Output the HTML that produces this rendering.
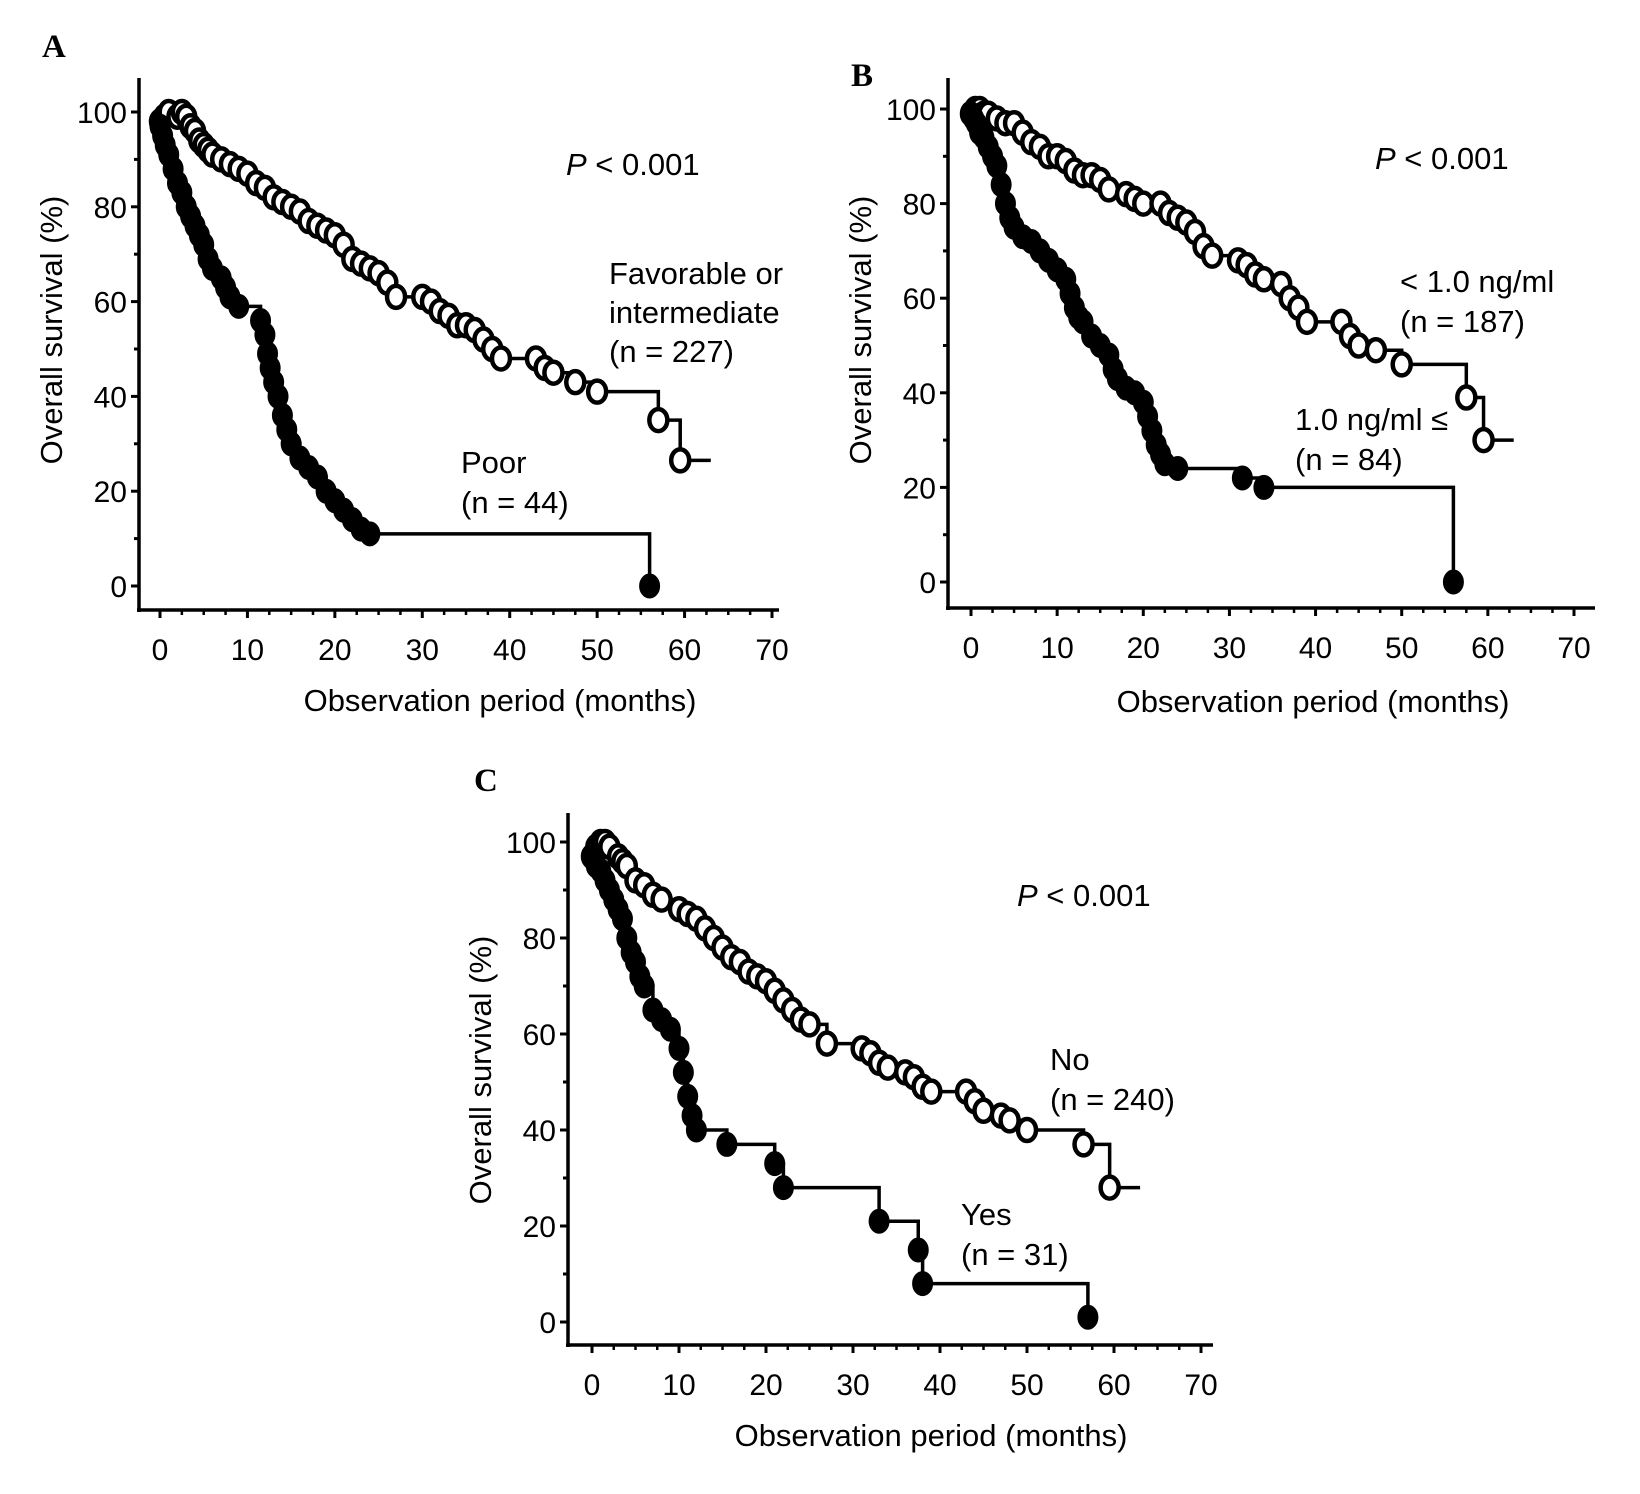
<!DOCTYPE html>
<html><head><meta charset="utf-8"><style>
html,body{margin:0;padding:0;background:#fff;}
svg{display:block;font-family:"Liberation Sans",Arial,sans-serif;}
</style></head><body>
<svg id="fig" width="1640" height="1494" viewBox="0 0 1640 1494" xmlns="http://www.w3.org/2000/svg"></svg>
<script>
// ---- data ----
const xTicks = [0,10,20,30,40,50,60,70];
const yTicks = [0,20,40,60,80,100];
// Panel A
const aFavT = [0,0.5,1,2,2.5,3,3.5,4,4.5,5,5.5,6,7,8,9,10,11,12,13,14,15,16,17,18,19,20,21,22,23,24,25,26,27,30,31,32,33,34,35,36,37,38,39,43,44,45,47.5,50,57,59.5,63];
const aFavS = [98,99,100,99,100,99,97,96,94,93,92,91,90,89,88,87,85,84,82,81,80,79,77,76,75,74,72,69,68,67,66,64,61,61,60,58,57,55,55,54,52,50,48,48,46,45,43,41,35,26.5,26.5];
const aPoorT = [0,0.3,0.6,1,1.5,2,2.5,3,3.5,4,4.5,5,5.5,6,7,7.5,8,9,11.5,12,12.3,12.6,13,13.5,14,14.5,15,16,17,18,19,20,21,22,23,24,56];
const aPoorS = [97,95,93,91,88,85,83,80,78,76,74,72,69,67,65,63,61,59,56,53,49,46,43,40,36,33,30,27,25,23,20,18,16,14,12,11,0];
// Panel B
const bLowT = [0,0.5,1,1.5,2,3,4,5,6,7,8,9,10,11,12,13,14,15,16,18,19,20,22,23,24,25,26,27,28,31,32,33,34,36,37,38,39,43,44,45,47,50,57.5,59.5,63];
const bLowS = [99,100,100,99,99,98,97,97,95,93,92,90,90,89,87,86,86,85,83,82,81,80,80,78,77,76,74,71,69,68,67,65,64,63,60,58,55,55,52,50,49,46,39,30,30];
const bHighT = [0,0.3,0.6,1,1.5,2,2.5,3,3.5,4,4.5,5,6,7,8,9,10,11,11.5,12,12.5,13,14,15,16,16.5,17,18,19,20,20.5,21,21.5,22,22.5,24,31.5,34,56];
const bHighS = [99,98,97,95,94,92,90,88,84,80,77,75,73,72,70,68,66,64,61,58,56,55,52,50,48,45,43,41,40,38,35,32,29,27,25,24,22,20,0];
// Panel C
const cNoT = [0,0.5,1,1.5,2,3,3.5,4,5,6,7,8,10,11,12,13,14,15,16,17,18,19,20,21,22,23,24,25,27,31,32,33,34,36,37,38,39,43,44,45,47,48,50,56.5,59.5,63];
const cNoS = [97,99,100,100,99,97,96,95,92,91,89,88,86,85,84,82,80,78,76,75,73,72,71,69,67,65,63,62,58,57,56,54,53,52,51,49,48,48,46,44,43,42,40,37,28,28];
const cYesT = [0,0.5,1,1.5,2,2.5,3,3.5,4,4.5,5,5.5,6,7,8,9,10,10.5,11,11.5,12,15.5,21,22,33,37.5,38,57];
const cYesS = [97,95,94,92,90,88,86,84,80,77,75,72,70,65,63,61,57,52,47,43,40,37,33,28,21,15,8,1];

const panels = [
  {id:'a', letter:'A', lx:42, ly:57, ax:139, atop:78, abot:610, aright:779, x0:160, x70:772, y100:112, y0:586,
   ytitle:[52,330], xtitle:[500,711], p:[566,175],
   series:[{t:aFavT,s:aFavS,open:true,name:'favorable'},{t:aPoorT,s:aPoorS,open:false,name:'poor'}],
   labels:[[609,284,'Favorable or'],[609,323,'intermediate'],[609,362,'(n = 227)'],[461,473,'Poor'],[461,513,'(n = 44)']]},
  {id:'b', letter:'B', lx:851, ly:86, ax:948, atop:78, abot:608, aright:1595, x0:971, x70:1574, y100:109, y0:582,
   ytitle:[861,330], xtitle:[1313,712], p:[1375,169],
   series:[{t:bLowT,s:bLowS,open:true,name:'low-marker'},{t:bHighT,s:bHighS,open:false,name:'high-marker'}],
   labels:[[1400,292,'< 1.0 ng/ml'],[1400,332,'(n = 187)'],[1295,430,'1.0 ng/ml ≤'],[1295,470,'(n = 84)']]},
  {id:'c', letter:'C', lx:474, ly:791, ax:568, atop:813, abot:1345, aright:1213, x0:592, x70:1201, y100:842, y0:1322,
   ytitle:[481,1070], xtitle:[931,1446], p:[1017,906],
   series:[{t:cNoT,s:cNoS,open:true,name:'no'},{t:cYesT,s:cYesS,open:false,name:'yes'}],
   labels:[[1050,1070,'No'],[1050,1110,'(n = 240)'],[961,1225,'Yes'],[961,1265,'(n = 31)']]}
];

const NS='http://www.w3.org/2000/svg';
const svg=document.getElementById('fig');
function mk(tag,attrs,parent){const e=document.createElementNS(NS,tag);for(const k in attrs)e.setAttribute(k,attrs[k]);(parent||svg).appendChild(e);return e;}

panels.forEach(P=>{
  const g=mk('g',{});
  
  
  const X=v=>P.x0+(P.x70-P.x0)*v/70;
  const Y=v=>P.y0+(P.y100-P.y0)*v/100;
  const L=mk('text',{x:P.lx,y:P.ly,'font-family':'Liberation Serif,serif','font-weight':'bold','font-size':33},g);
  L.textContent=P.letter;
  
  
  const axY=mk('line',{x1:P.ax,y1:P.atop,x2:P.ax,y2:P.abot+2,stroke:'#000','stroke-width':3.5},g);
  
  
  const axX=mk('line',{x1:P.ax-2,y1:P.abot,x2:P.aright,y2:P.abot,stroke:'#000','stroke-width':3.5},g);
  
  
  for(let v=0;v<=100;v+=10){mk('line',{x1:P.ax-(v%20===0?8:5),y1:Y(v),x2:P.ax,y2:Y(v),stroke:'#000','stroke-width':3},g);}
  for(let v=0;v<=70;v+=2.5){const maj=v%10===0;mk('line',{x1:X(v),y1:P.abot,x2:X(v),y2:P.abot+(maj?8:5),stroke:'#000','stroke-width':maj?3:2.5},g);}
  yTicks.forEach(v=>{const t=mk('text',{x:P.ax-12,y:Y(v)+11,'text-anchor':'end','font-size':30},g);t.textContent=v;
    
    });
  xTicks.forEach(v=>{const t=mk('text',{x:X(v),y:P.abot+50,'text-anchor':'middle','font-size':30},g);t.textContent=v;
    
    });
  const yt=mk('text',{x:0,y:0,'text-anchor':'middle','font-size':31,transform:`translate(${P.ytitle[0]+10},${P.ytitle[1]}) rotate(-90)`},g);
  yt.textContent='Overall survival (%)';
  
  
  const xt=mk('text',{x:P.xtitle[0],y:P.xtitle[1],'text-anchor':'middle','font-size':31},g);
  xt.textContent='Observation period (months)';
  
  
  const pt=mk('text',{x:P.p[0],y:P.p[1],'font-size':31},g);
  pt.innerHTML='<tspan font-style="italic">P</tspan> &lt; 0.001';
  
  
  P.labels.forEach(l=>{const t=mk('text',{x:l[0],y:l[1],'font-size':31},g);t.textContent=l[2];
    
    });
  P.series.forEach(S=>{
    let d='M'+X(S.t[0])+','+Y(S.s[0]);
    for(let i=1;i<S.t.length;i++){d+=' H'+X(S.t[i])+' V'+Y(S.s[i]);}
    const p=mk('path',{d:d,fill:'none',stroke:'#000','stroke-width':3.5},g);
    
    
    const n=S.open?S.t.length-1:S.t.length;
    for(let i=0;i<n;i++){
      const c=mk('ellipse',{cx:X(S.t[i]),cy:Y(S.s[i]),rx:S.open?9:10,ry:S.open?11:12,fill:S.open?'#fff':'#000',stroke:'#000','stroke-width':S.open?4.5:1},g);
      
      
    }
  });
});
</script>
</body></html>
